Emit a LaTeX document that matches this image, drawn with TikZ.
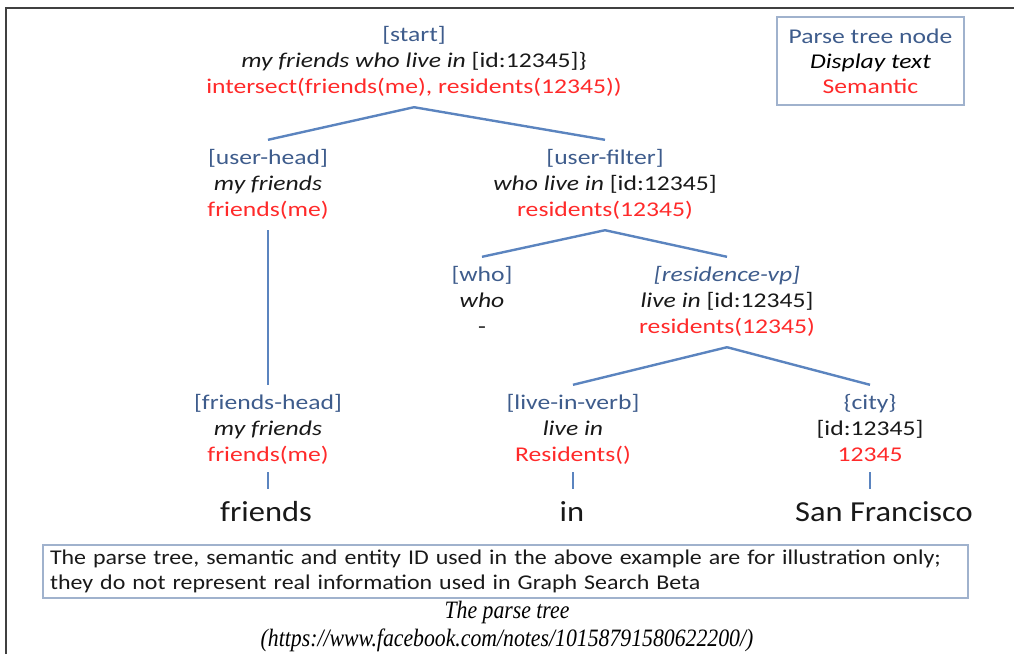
\documentclass[tikz,border=0pt]{standalone}
\usepackage{fontspec}
\setmainfont{Carlito}
\newfontfamily\treefont[FakeStretch=1.22]{Carlito}
\newfontfamily\wordfont[FakeStretch=1.12]{Carlito}
\newfontfamily\notefont[FakeStretch=1.14]{Carlito}
\newfontfamily\capfont[FakeStretch=0.87]{Liberation Serif}
\definecolor{lblue}{RGB}{62,92,140}
\definecolor{sred}{RGB}{255,42,42}
\definecolor{tline}{RGB}{91,132,191}
\definecolor{boxc}{RGB}{160,178,205}
\definecolor{framec}{RGB}{64,64,64}
\newcommand{\lbl}[1]{{\color{lblue}#1}}
\newcommand{\sem}[1]{{\color{sred}#1}}
\newcommand{\dsp}[1]{{\itshape #1}}
\begin{document}
\begin{tikzpicture}[x=1pt,y=-1pt,
  tn/.style={align=center, inner xsep=0pt, inner ysep=6pt, text=black!90,
    font=\treefont\fontsize{21}{26}\selectfont},
  word/.style={inner xsep=0pt, inner ysep=10pt, text=black!90,
    font=\wordfont\fontsize{29}{34}\selectfont},
  edge/.style={draw=tline, line width=2.4pt},
  tick/.style={draw=tline, line width=2.2pt, shorten <=-3pt, shorten >=3pt}]
\useasboundingbox (0,0) rectangle (1014,654);
% frame
\coordinate (ftl) at (6,8);
\coordinate (ftr) at (1014,8);
\coordinate (fbl) at (6,654);
\draw[framec, line width=2pt] (fbl) -- (ftl) -- (ftr);
% tree nodes
\node[tn] (start) at (414,62) {\lbl{[start]}\strut\\ \dsp{my friends who live in} [id:12345]\}\strut\\ \sem{intersect(friends(me), residents(12345))}\strut};
\node[tn] (uhead) at (268,185) {\lbl{[user-head]}\strut\\ \dsp{my friends}\strut\\ \sem{friends(me)}\strut};
\node[tn] (ufilter) at (605,185) {\lbl{[user-filter]}\strut\\ \dsp{who live in} [id:12345]\strut\\ \sem{residents(12345)}\strut};
\node[tn] (who) at (482,302) {\lbl{[who]}\strut\\ \dsp{who}\strut\\ -\strut};
\node[tn] (rvp) at (727,302) {\lbl{\itshape [residence-vp]}\strut\\ \dsp{live in} [id:12345]\strut\\ \sem{residents(12345)}\strut};
\node[tn] (fhead) at (268,430) {\lbl{[friends-head]}\strut\\ \dsp{my friends}\strut\\ \sem{friends(me)}\strut};
\node[tn] (liv) at (573,430) {\lbl{[live-in-verb]}\strut\\ \dsp{live in}\strut\\ \sem{Residents()}\strut};
\node[tn] (city) at (870,430) {\lbl{\{city\}}\strut\\ {[id:12345]}\strut\\ \sem{12345}\strut};
% words
\node[word] (w1) at (266,512) {friends};
\node[word] (w2) at (572,512) {in};
\node[word] (w3) at (884,512) {San Francisco};
% edges
\draw[edge] (start.south) -- (uhead.north);
\draw[edge] (start.south) -- (ufilter.north);
\draw[edge] (uhead.south) -- (fhead.north);
\draw[edge] (ufilter.south) -- (who.north);
\draw[edge] (ufilter.south) -- (rvp.north);
\draw[edge] (rvp.south) -- (liv.north);
\draw[edge] (rvp.south) -- (city.north);
\draw[tick] (fhead.south) -- (fhead.south |- w1.north);
\draw[tick] (liv.south) -- (liv.south |- w2.north);
\draw[tick] (city.south) -- (city.south |- w3.north);
% legend
\node[draw=boxc, line width=1.8pt, minimum width=187pt, minimum height=88pt, align=center,
  inner sep=0pt, font=\treefont\fontsize{21}{25}\selectfont] (legend) at (870.5,61)
  {\lbl{Parse tree node}\\ \dsp{Display text}\\ \sem{Semantic}};
% note
\node[draw=boxc, line width=1.4pt, minimum width=925pt, minimum height=53pt,
  inner xsep=7pt, inner ysep=0pt, text width=911pt, align=left, text=black!90,
  font=\notefont\fontsize{21}{25}\selectfont] (note) at (505.5,571.5)
  {The parse tree, semantic and entity ID used in the above example are for illustration only;\\ they do not represent real information used in Graph Search Beta};
% caption
\node[align=center, inner sep=0pt, font=\capfont\itshape\fontsize{25}{28}\selectfont] (cap) at (507,626)
  {The parse tree\\ (https://www.facebook.com/notes/10158791580622200/)};
\end{tikzpicture}
\end{document}
